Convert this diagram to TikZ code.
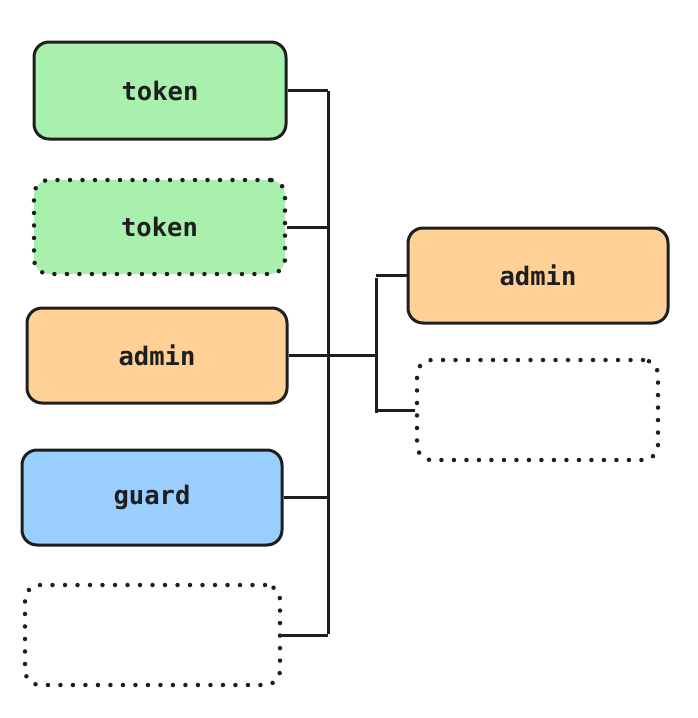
\documentclass[tikz,border=0pt]{standalone}
\usepackage{fontspec}
\setmonofont{DejaVu Sans Mono}
\definecolor{gfill}{HTML}{A9EFAD}
\definecolor{ofill}{HTML}{FFD196}
\definecolor{bfill}{HTML}{9ACEFF}
\definecolor{ink}{HTML}{1E1E1E}
\tikzset{
  box/.style={draw=ink, line width=3pt, rounded corners=15pt, inner sep=0pt,
    font=\ttfamily\bfseries\fontsize{25.5}{30}\selectfont, text=ink},
  dotbox/.style={box, line cap=round, line width=4.5pt, dash pattern=on 0pt off 12.5pt},
  wire/.style={draw=ink, line width=3pt},
}
\begin{document}
\begin{tikzpicture}[x=1pt,y=-1pt]
\useasboundingbox (0,0) rectangle (698,718);
% left column
\node[box, fill=gfill, minimum width=252pt, minimum height=97pt] (t1) at (160,90.5) {token};
\node[dotbox, fill=gfill, minimum width=251pt, minimum height=94pt] (t2) at (159.5,227) {token};
\node[box, fill=ofill, minimum width=260pt, minimum height=95pt] (a1) at (157,355.5) {admin};
\node[box, fill=bfill, minimum width=260pt, minimum height=95pt] (g) at (152,497.5) {guard};
\node[dotbox, minimum width=255pt, minimum height=100pt] (e1) at (152.5,635) {};
% right column
\node[box, fill=ofill, minimum width=260pt, minimum height=95pt] (a2) at (538,275.5) {admin};
\node[dotbox, minimum width=241pt, minimum height=100pt] (e2) at (537.5,410) {};
% trunks
\coordinate (ttop) at (328,91);
\coordinate (tbot) at (328,634);
\coordinate (rtop) at (376,278);
\coordinate (rbot) at (376,413);
\draw[wire] (ttop) -- (tbot);
\draw[wire] (rtop) -- (rbot);
% branches
\draw[wire] (t1.east) -- (t1.east -| ttop);
\draw[wire] (t2.east) -- (t2.east -| ttop);
\draw[wire] (a1.east) -- (a1.east -| rtop);
\draw[wire] (g.east) -- (g.east -| ttop);
\draw[wire] (e1.east) -- (e1.east -| ttop);
\draw[wire] (a2.west) -- (a2.west -| rtop);
\draw[wire] (e2.west) -- (e2.west -| rtop);
\end{tikzpicture}
\end{document}
